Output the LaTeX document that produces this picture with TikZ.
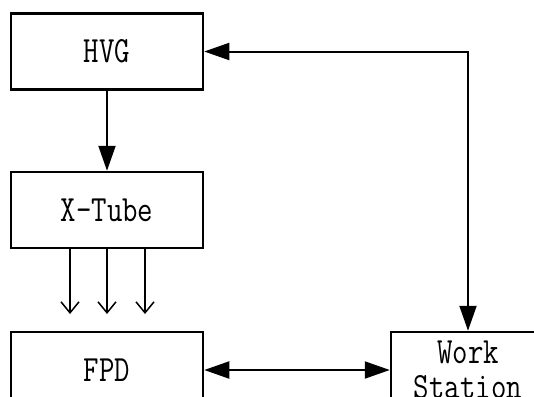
\documentclass[tikz,border=0pt]{standalone}
\usepackage{fontspec}
\newfontfamily\boxfont[FakeStretch=0.81]{Latin Modern Mono}
\usetikzlibrary{arrows.meta, positioning}

\begin{document}
\begin{tikzpicture}[x=1pt, y=-1pt]
\tikzset{
  box/.style={rectangle,draw=black,line width=2.5pt,minimum width=192pt,minimum height=76pt,align=center,inner sep=0pt,font=\boxfont\fontsize{37}{35}\selectfont},
  ar/.style={-{Triangle[length=25pt,width=17pt]},line width=2pt,draw=black},
  dar/.style={{Triangle[length=25pt,width=17pt]}-{Triangle[length=25pt,width=17pt]},line width=2pt,draw=black},
  ray/.style={-{Straight Barb[length=11pt,width=18pt]},line width=1.5pt,draw=black}
}
\useasboundingbox (0,0) rectangle (534,396);
\clip (0,0) rectangle (534,396);
% ---- boxes
\node[box] (hvg)  at (107,51.5) {HVG};
\node[box] (tube) at (107,210)  {X-Tube};
\node[box] (fpd)  at (107,370)  {FPD};
\node[box,minimum width=154pt] (ws) at (468,370) {Work\\Station};
% ---- free ends of the rays
\coordinate (r1) at (70,314);
\coordinate (r2) at (107,314);
\coordinate (r3) at (145,314);
% ---- arrows
\draw[ar] (hvg.south)--(tube.north);
\draw[ray] (tube.south -| r1)--(r1);
\draw[ray] (tube.south -| r2)--(r2);
\draw[ray] (tube.south -| r3)--(r3);
\draw[dar] (hvg.east) -| (ws.north);
\draw[dar] (fpd.east)--(ws.west);
\end{tikzpicture}
\end{document}
